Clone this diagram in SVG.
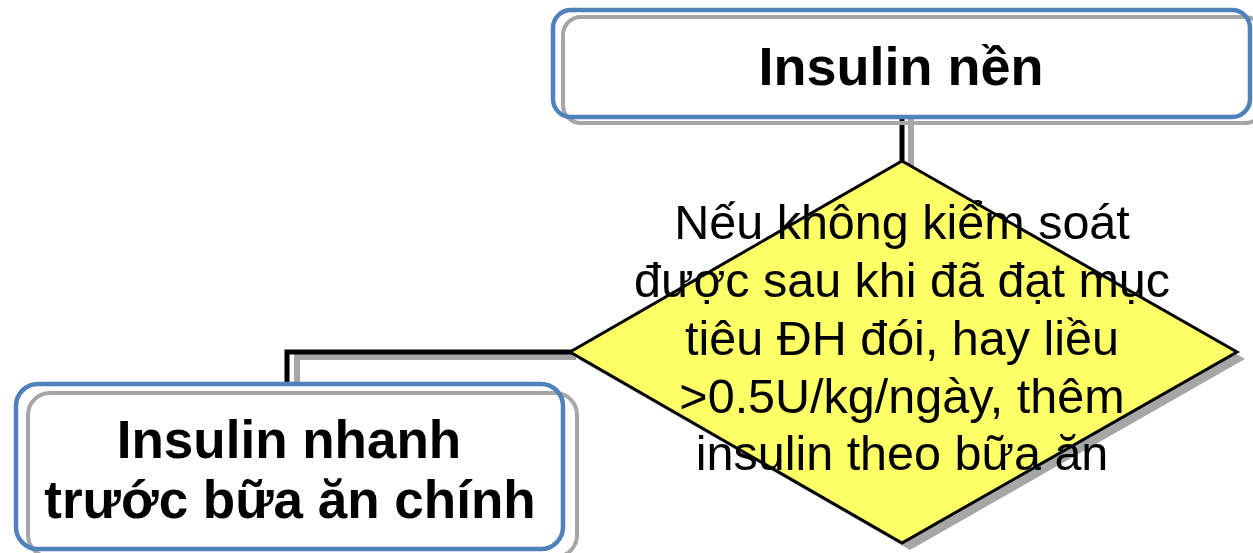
<svg xmlns="http://www.w3.org/2000/svg" width="1253" height="553" viewBox="0 0 1253 553">
<style>
.box{fill:#fff}
.shadow{fill:none;stroke:#a6a6a6;stroke-width:4}
.outline{fill:none;stroke:#4f81bd;stroke-width:4.5}
.title{font-family:"Liberation Sans",Arial,sans-serif;font-weight:bold;fill:#000;text-anchor:middle}
.body{font-family:"Liberation Sans",Arial,sans-serif;font-size:48.5px;fill:#000;text-anchor:middle}
.line{fill:none;stroke:#000;stroke-width:5}
.lineshadow{fill:none;stroke:#a6a6a6;stroke-width:6}
</style>
<rect width="1253" height="553" fill="#fff"/>
<g id="connectors">
<path class="lineshadow" d="M911,117 V168"/>
<path class="lineshadow" d="M576,357 H297 V386"/>
<path class="line" d="M902,112 V162"/>
<path class="line" d="M572,352 H287 V384"/>
</g>
<g id="node-basal">
<rect class="box" x="553" y="10" width="697" height="107" rx="18"/>
<rect class="shadow" x="563" y="17" width="700" height="106" rx="18"/>
<rect class="outline" x="553" y="10" width="697" height="107" rx="18"/>
<text class="title" x="901" y="85" font-size="54">Insulin nền</text>
</g>
<g id="node-decision">
<polygon points="910,168 1245,359 910,550 578,359" fill="#a6a6a6"/>
<polygon points="902,161 1237,352 902,543 570,352" fill="#ffff66" stroke="#000" stroke-width="3"/>
<text class="body" x="902" y="239">Nếu không kiểm soát</text>
<text class="body" x="902" y="297">được sau khi đã đạt mục</text>
<text class="body" x="902" y="355">tiêu ĐH đói, hay liều</text>
<text class="body" x="902" y="413">&gt;0.5U/kg/ngày, thêm</text>
<text class="body" x="902" y="470">insulin theo bữa ăn</text>
</g>
<g id="node-prandial">
<rect class="box" x="16" y="384" width="547" height="165" rx="22"/>
<rect class="shadow" x="28" y="393" width="549" height="164" rx="22"/>
<rect class="outline" x="16" y="384" width="547" height="165" rx="22"/>
<text class="title" x="289" y="458" font-size="53">Insulin nhanh</text>
<text class="title" x="290" y="518" font-size="53">trước bữa ăn chính</text>
</g>
</svg>
